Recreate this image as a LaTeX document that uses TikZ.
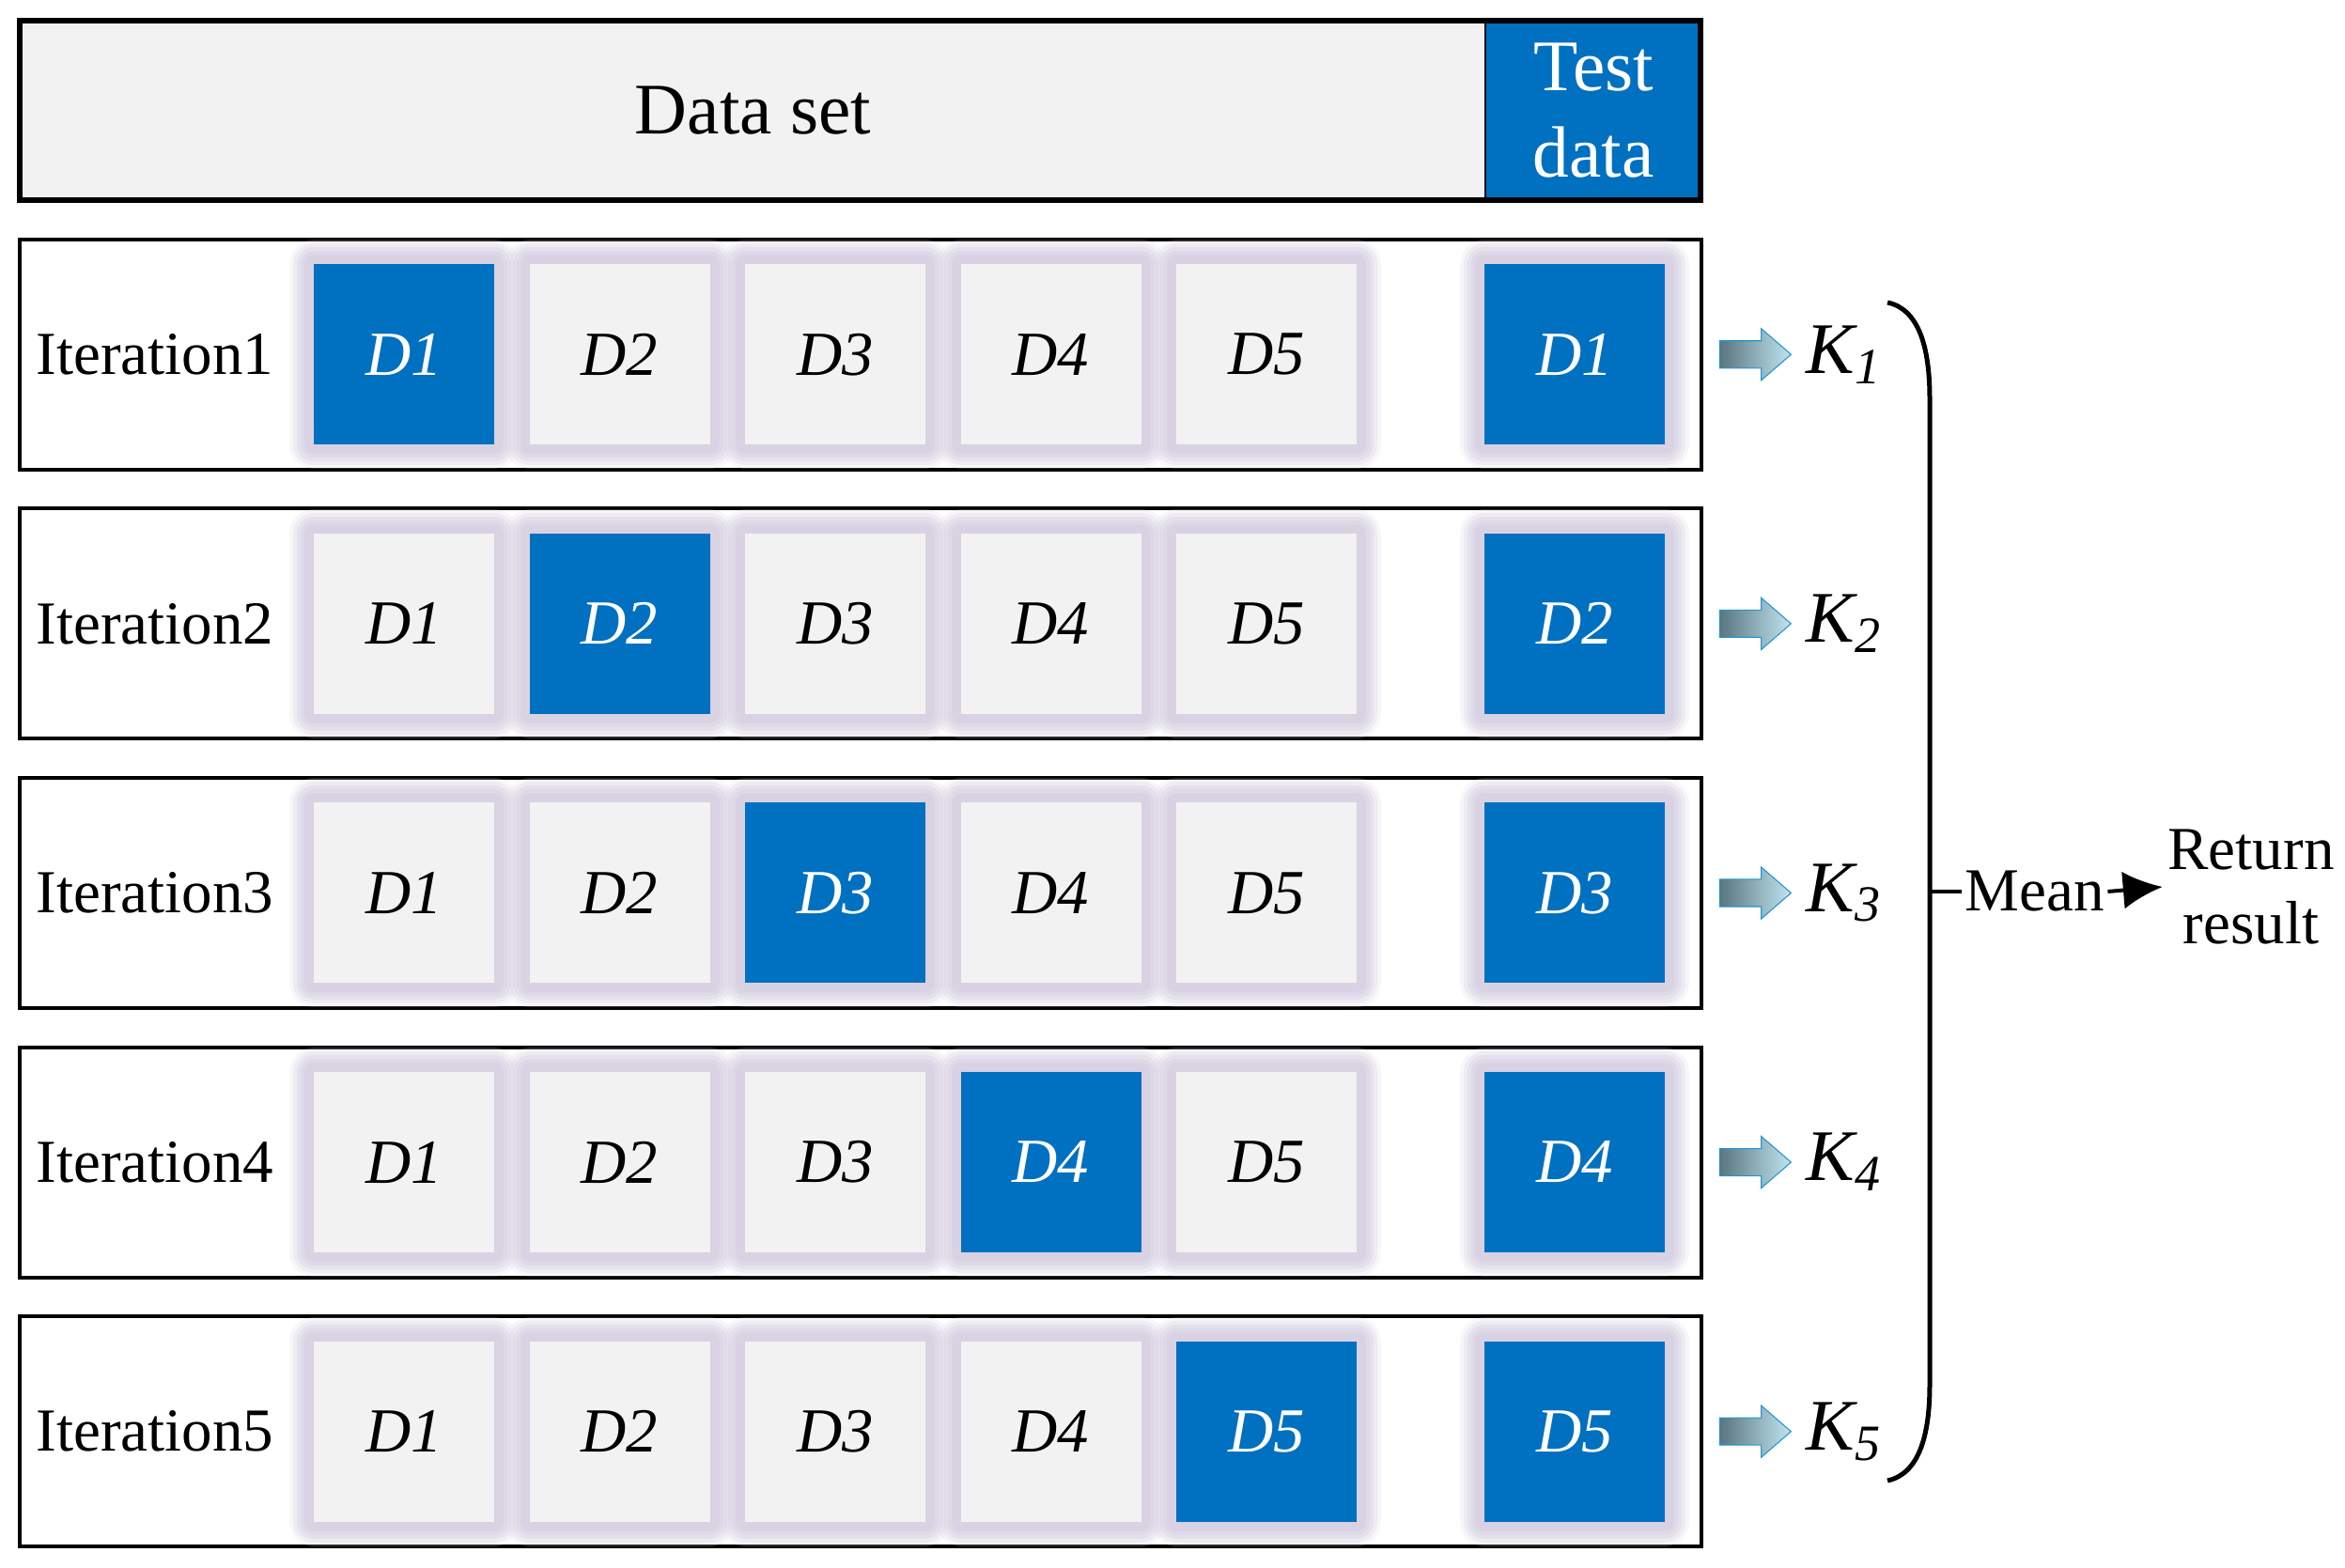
\documentclass[tikz,border=0pt]{standalone}
\usepackage{fontspec}
\setmainfont{Liberation Serif}
\usepackage{xcolor}
\usepackage{tikz}
\usetikzlibrary{shapes,shapes.arrows,arrows.meta,calc,positioning}
\definecolor{foldblue}{RGB}{0,112,192}
\definecolor{foldgray}{RGB}{242,242,242}
\definecolor{glowc}{RGB}{216,210,227}
\definecolor{arrdark}{RGB}{90,118,128}
\definecolor{arrlight}{RGB}{192,228,238}
\definecolor{arredge}{RGB}{30,150,210}
\tikzset{
  glow/.style = {preaction={draw=glowc, line width=0.52cm, line join=round, opacity=0.2},
                 preaction={draw=glowc, line width=0.44cm, line join=round, opacity=0.3},
                 preaction={draw=glowc, line width=0.36cm, line join=round, opacity=0.4},
                 preaction={draw=glowc, line width=0.28cm, line join=round, opacity=0.5},
                 preaction={draw=glowc, line width=0.20cm, line join=round}},
  fold/.style = {glow, rectangle, minimum width=1.92cm, minimum height=1.92cm, inner sep=0pt, font=\fontsize{19}{22}\selectfont\itshape},
  fold_n/.style = {fold, fill=foldgray, text=black},
  fold_t/.style = {fold, fill=foldblue, text=white},
  rowbox/.style = {draw=black, line width=0.04cm, minimum width=17.9cm, minimum height=2.45cm, inner sep=0pt},
  txt/.style = {font=\fontsize{18.5}{22.5}\selectfont, inner sep=0.05cm},
  karrow/.style = {single arrow, single arrow head extend=0.13cm, single arrow tip angle=82, minimum height=0.76cm, inner xsep=0pt, inner ysep=0.14cm, left color=arrdark, right color=arrlight, draw=arredge, line width=0.3pt}
}
\begin{document}
\begin{tikzpicture}
  \useasboundingbox (0,0) rectangle (24.96,16.69);
  % whole data set
  \node[draw, line width=0.04cm, fill=foldgray, outer sep=0pt, minimum width=15.61cm, minimum height=1.91cm, font=\fontsize{22}{26}\selectfont] (dset) at (8.015,15.515) {Data set};
  \node[fill=foldblue, text=white, outer sep=0pt, minimum width=2.28cm, minimum height=1.91cm, align=center, font=\fontsize{22}{26}\selectfont, right=0pt of dset] (tdata) {Test\\data};
  \draw[line width=0.06cm] (dset.south west) rectangle (tdata.north east);
  % iterations
  \foreach \i in {1,...,5}{
    \pgfmathsetmacro{\ry}{12.917-2.866*(\i-1)}
    \node[rowbox] (row\i) at (9.16,\ry) {};
    \node[txt, anchor=west] (it\i) at ($(row\i.west)+(0.14,0)$) {Iteration\i};
    \foreach \j in {1,...,5}{
      \ifnum\i=\j \def\st{fold_t}\else \def\st{fold_n}\fi
      \node[\st] (d\i\j) at ({4.30+2.295*(\j-1)},\ry) {D\j};
    }
    \node[fold_t] (t\i) at (16.76,\ry) {D\i};
    \node[karrow] (a\i) at (18.60,\ry) {};
    \node[font=\fontsize{22}{24}\selectfont\itshape, inner sep=0.05cm, right=0.10cm of a\i] (k\i) {K\textsubscript{\i}};
  }
  % brace and mean
  \draw[line width=0.05cm] (20.09,13.47) .. controls (20.42,13.40) and (20.54,13.0) .. (20.54,12.45)
    -- (20.54,1.95) .. controls (20.54,1.40) and (20.42,1.00) .. (20.09,0.93);
  \coordinate (bmid) at (20.54,7.20);
  \node[txt, anchor=west, inner sep=0.03cm] (mean) at (20.88,7.20) {Mean};
  \node[txt, align=center] (ret) at (23.96,7.25) {Return\\result};
  \draw[line width=0.04cm] (bmid) -- (mean.west);
  \draw[-{Latex[length=0.42cm,width=0.40cm]}, line width=0.04cm] (mean.east) -- (ret.west);
\end{tikzpicture}
\end{document}
